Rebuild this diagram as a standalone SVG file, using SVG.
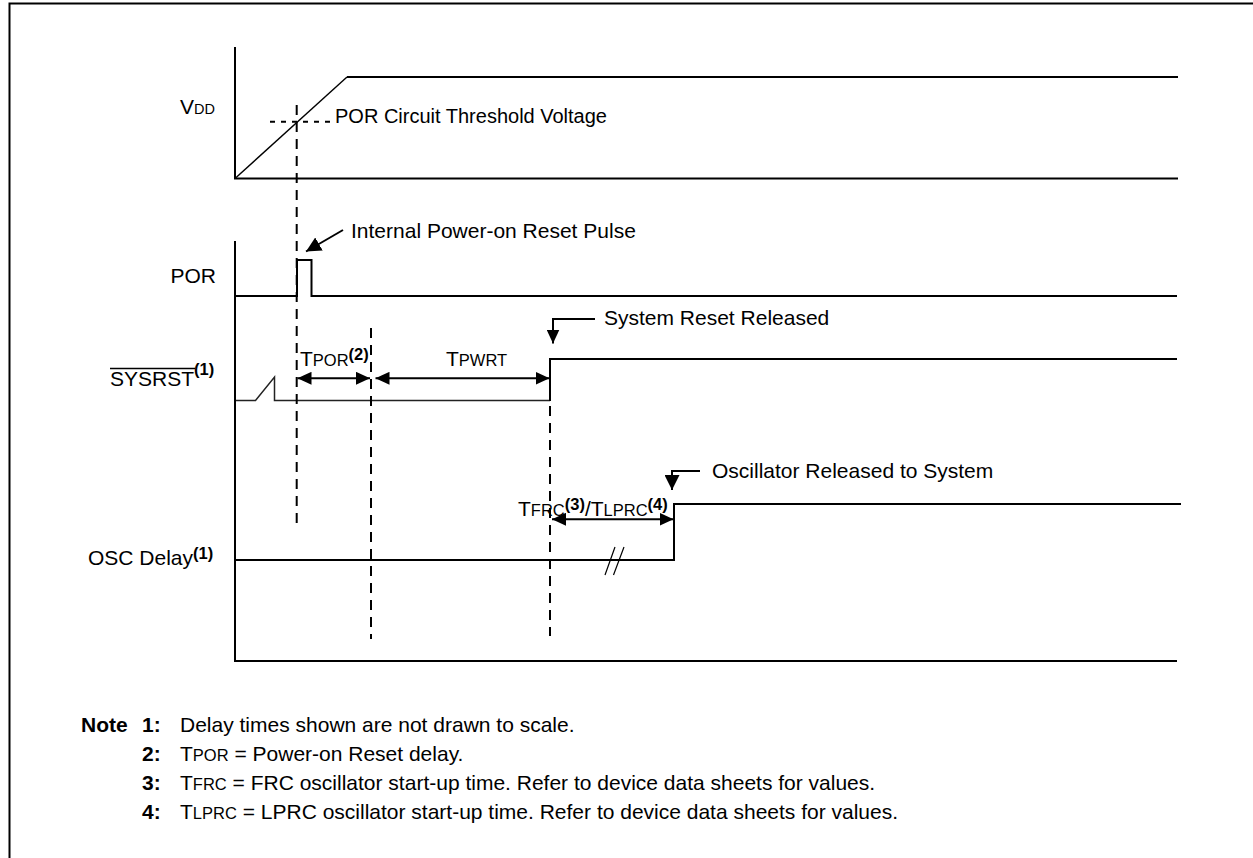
<svg xmlns="http://www.w3.org/2000/svg" width="1253" height="858" viewBox="0 0 1253 858">
<style>
text{font-family:"Liberation Sans",Arial,sans-serif;font-size:21px;fill:#000}
.sc{font-size:16.5px}
.vsc{font-size:14.5px}
.sup{font-size:16.5px;font-weight:bold}
.b{font-weight:bold}
.ln{fill:none;stroke:#000;stroke-width:2}
.thin{fill:none;stroke:#000;stroke-width:1.4}
.dash{fill:none;stroke:#000;stroke-width:2;stroke-dasharray:10 7}
.dot{fill:none;stroke:#000;stroke-width:2;stroke-dasharray:5 6}
.arr{fill:none;stroke:#000;stroke-width:2}
</style>
<defs>
<marker id="ah" viewBox="0 0 14 13" refX="14" refY="6.5" markerWidth="14" markerHeight="13" orient="auto-start-reverse" markerUnits="userSpaceOnUse">
<path d="M0,0 L14,6.5 L0,13 z" fill="#000"/>
</marker>
<marker id="ahd" viewBox="0 0 15 15" refX="15" refY="7.5" markerWidth="15" markerHeight="15" orient="auto" markerUnits="userSpaceOnUse">
<path d="M0,0 L15,7.5 L0,15 z" fill="#000"/>
</marker>
</defs>
<rect width="1253" height="858" fill="#fff"/>
<!-- frame -->
<path class="ln" d="M9.5,858 V3.5 H1253"/>

<g id="vdd">
<path class="ln" d="M235,47 V178.5 H1178"/>
<path class="thin" d="M235,178.5 L347,77"/>
<path class="ln" d="M347,77 H1178"/>
<path class="dot" d="M270,121.7 H334"/>
<text x="180" y="114">V<tspan class="vsc">DD</tspan></text>
<text x="335" y="122.5" style="font-size:20px">POR Circuit Threshold Voltage</text>
</g>

<g id="por">
<path class="ln" d="M235,241 V661 H1177"/>
<path class="ln" d="M235,296 H297 V260 H311.5 V296 H1177"/>
<text x="216" y="283" text-anchor="end">POR</text>
<text x="351" y="238">Internal Power-on Reset Pulse</text>
</g>

<g id="sysrst">
<path fill="none" stroke="#222" stroke-width="1.5" d="M236,400.5 H255.5 L274.5,377 V400.5 H550"/>
<path class="ln" d="M550,401 V359 H1177"/>
<line x1="110" y1="368.5" x2="195" y2="368.5" stroke="#000" stroke-width="1.5"/>
<text x="110" y="385.5">SYSRST<tspan class="sup" dy="-11">(1)</tspan></text>
<text x="300" y="365.5">T<tspan class="sc">POR</tspan><tspan class="sup" dy="-6">(2)</tspan></text>
<text x="446" y="365.5">T<tspan class="sc">PWRT</tspan></text>
<text x="604" y="325">System Reset Released</text>
</g>

<g id="osc">
<path class="ln" d="M235,560 H674 V504 H1181"/>
<path fill="none" stroke="#000" stroke-width="1.2" d="M605,575 L615,547 M613.5,575 L624,547"/>
<text x="88" y="565">OSC Delay<tspan class="sup" dy="-6">(1)</tspan></text>
<text x="518" y="516">T<tspan class="sc">FRC</tspan><tspan class="sup" dy="-6">(3)</tspan><tspan dy="6">/T</tspan><tspan class="sc">LPRC</tspan><tspan class="sup" dy="-6">(4)</tspan></text>
<text x="712" y="477.5">Oscillator Released to System</text>
</g>

<g id="markers-lines">
<path class="dash" d="M296.7,105 V529"/>
<path class="dash" d="M371,328 V639"/>
<path class="dash" d="M550,406 V636"/>
</g>

<g id="connectors">
<line class="arr" x1="343" y1="230" x2="306" y2="251.5" marker-end="url(#ahd)"/>
<line class="arr" x1="297.5" y1="378.3" x2="370" y2="378.3" marker-start="url(#ah)" marker-end="url(#ah)"/>
<line class="arr" x1="375.5" y1="378.3" x2="549.5" y2="378.3" marker-start="url(#ah)" marker-end="url(#ah)"/>
<path class="arr" d="M595,319 H553 V343.5" marker-end="url(#ah)"/>
<line class="arr" x1="552" y1="519.3" x2="673.5" y2="519.3" marker-start="url(#ah)" marker-end="url(#ah)"/>
<path class="arr" d="M700,471 H672 V490" marker-end="url(#ahd)"/>
</g>

<g id="notes">
<text class="b" x="81" y="731.5">Note</text>
<text class="b" x="142" y="731.5">1:</text>
<text x="180" y="731.5">Delay times shown are not drawn to scale.</text>
<text class="b" x="142" y="761">2:</text>
<text x="180" y="761">T<tspan class="sc">POR</tspan> = Power-on Reset delay.</text>
<text class="b" x="142" y="790">3:</text>
<text x="180" y="790">T<tspan class="sc">FRC</tspan> = FRC oscillator start-up time. Refer to device data sheets for values.</text>
<text class="b" x="142" y="819">4:</text>
<text x="180" y="819">T<tspan class="sc">LPRC</tspan> = LPRC oscillator start-up time. Refer to device data sheets for values.</text>
</g>
</svg>
